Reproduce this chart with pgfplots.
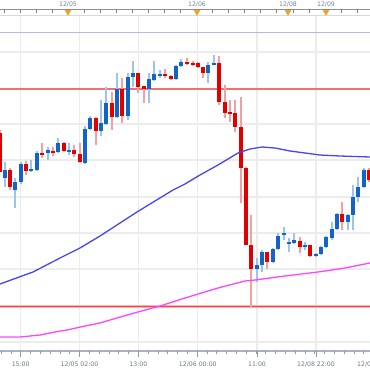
\documentclass[border=0pt]{standalone}
\usepackage{pgfplots}
\pgfplotsset{compat=1.18}
\usepackage{pgfplotstable}
\usepackage{fontspec}
\setmainfont{DejaVu Sans}
\definecolor{cblue}{HTML}{1464C8}
\definecolor{cred}{HTML}{E00000}
\definecolor{wblue}{HTML}{9CC4EE}
\definecolor{wred}{HTML}{F2A0A0}
\definecolor{maBlue}{HTML}{4646F5}
\definecolor{maMag}{HTML}{FF44FF}
\definecolor{gridc}{HTML}{ECECEC}
\definecolor{lblc}{HTML}{6E7888}
\definecolor{toplbl}{HTML}{7080A0}
\definecolor{axc}{HTML}{A8B2C4}
\definecolor{lav}{HTML}{B4B8E6}
\definecolor{org}{HTML}{F5A020}
\definecolor{lvl}{HTML}{F27070}

% pixel coordinates: x = left->right, y = top->bottom
\pgfplotstableread{
x bt bb wt wb
5 170 178 162 187
15 182 190 178 208
21 164 182 162 184
31 169 171 160 172
37 153 170 151 171
48 150 153 147 160
58 143 152 138 153
69 150 151 143 155
85 129 163 126 164
90 118 129 116 130
101 123 131 100 136
106 103 124 87 125
117 89 117 73 118
128 77 116 73 120
133 73 77 61 87
149 79 89 73 103
154 74 80 61 81
160 74 75 70 78
176 66 79 65 80
181 62 66 59 67
208 65 73 62 83
214 63 64 55 65
257 265 269 258 282
262 252 265 250 272
273 249 262 248 263
278 236 249 233 250
284 233 235 227 240
289 242 243 238 252
294 240 243 233 244
305 245 247 242 250
316 254 256 253 257
321 247 254 246 255
326 237 247 236 248
332 229 238 222 240
337 214 229 213 230
348 215 222 214 230
353 197 215 185 230
358 187 197 177 202
364 170 187 168 188
}\upcandles

\pgfplotstableread{
x bt bb wt wb
0 133 172 130 172
10 170 187 168 190
26 164 171 161 175
42 153 155 143 158
53 151 153 147 156
64 143 151 142 152
74 150 154 145 157
80 154 162 143 163
96 118 131 117 145
112 103 117 92 130
122 89 116 78 123
138 73 87 73 93
144 86 89 86 103
165 74 76 69 78
171 76 79 75 80
187 62 64 58 65
193 63 64 61 66
198 63 67 62 68
203 67 73 67 78
219 63 102 56 105
225 102 113 85 118
230 112 114 100 122
235 113 127 100 132
241 127 168 97 203
246 168 245 167 245
251 245 269 215 307
267 252 262 252 269
300 241 247 237 253
310 245 256 245 257
342 214 222 202 230
369 170 180 168 182
}\downcandles

\begin{document}
\begin{tikzpicture}
\useasboundingbox (0,0) rectangle (185pt,185pt);
\begin{axis}[
  at={(0,0)}, anchor=south west,
  width=185pt, height=185pt, scale only axis,
  xmin=0, xmax=370, ymin=0, ymax=370, y dir=reverse,
  axis lines=none, clip=true,
]
% grid
\foreach \yy in {52,124,160,197,233,269,342}{
  \edef\tmp{\noexpand\draw[gridc, line width=0.6pt] (axis cs:0,\yy) -- (axis cs:370,\yy);}\tmp
}
\foreach \xx in {20.7,79.5,138.3,197.8,257,316}{
  \edef\tmp{\noexpand\draw[gridc, line width=0.6pt] (axis cs:\xx,16) -- (axis cs:\xx,351);}\tmp
}
% top strip
\draw[axc!80!black, line width=0.5pt] (axis cs:0,9.5) -- (axis cs:370,9.5);
\foreach \k in {0,...,22}{
  \pgfmathsetmacro\xx{4+16.05*\k}
  \edef\tmp{\noexpand\draw[gray, line width=0.4pt] (axis cs:\xx,9.5) -- (axis cs:\xx,12.5);}\tmp
}
\draw[gray!30, line width=0.9pt] (axis cs:0,15.5) -- (axis cs:370,15.5);
\draw[lav, line width=0.6pt] (axis cs:0,32.5) -- (axis cs:370,32.5);
\addplot[only marks, mark=triangle*, mark size=1.5pt, color=org, mark options={rotate=180}] coordinates {(68,12) (197,12) (288,12) (326,12)};
\node[toplbl, font=\fontsize{3.1}{4}\selectfont] at (axis cs:68,4.5) {12/05};
\node[toplbl, font=\fontsize{3.1}{4}\selectfont] at (axis cs:197,4.5) {12/06};
\node[toplbl, font=\fontsize{3.1}{4}\selectfont] at (axis cs:288,4.5) {12/08};
\node[toplbl, font=\fontsize{3.1}{4}\selectfont] at (axis cs:326,4.5) {12/09};
% bottom axis
\draw[axc, line width=0.6pt] (axis cs:0,351) -- (axis cs:370,351);
\foreach \xx in {20.7,79.5,138.3,197.8,257,316}{
  \edef\tmp{\noexpand\draw[gray!80, line width=0.4pt] (axis cs:\xx,351) -- (axis cs:\xx,357);}\tmp
}
\foreach \k in {0,...,37}{
  \pgfmathsetmacro\xx{1.1+9.8*\k}
  \edef\tmp{\noexpand\draw[gray!80, line width=0.4pt] (axis cs:\xx,351) -- (axis cs:\xx,354);}\tmp
}
\node[lblc, font=\fontsize{3.1}{4}\selectfont] at (axis cs:20.7,364) {15:00};
\node[lblc, font=\fontsize{3.1}{4}\selectfont] at (axis cs:79.5,364) {12/05 02:00};
\node[lblc, font=\fontsize{3.1}{4}\selectfont] at (axis cs:138.3,364) {13:00};
\node[lblc, font=\fontsize{3.1}{4}\selectfont] at (axis cs:197.8,364) {12/06 00:00};
\node[lblc, font=\fontsize{3.1}{4}\selectfont] at (axis cs:257,364) {11:00};
\node[lblc, font=\fontsize{3.1}{4}\selectfont] at (axis cs:316,364) {12/08 22:00};
\node[lblc, font=\fontsize{3.1}{4}\selectfont] at (axis cs:376,364) {12/09 09:00};
% horizontal levels
\addplot[color=lvl, line width=0.6pt] coordinates {(0,89) (370,89)};
\addplot[color=red!30, line width=1.8pt] coordinates {(0,306.5) (370,306.5)};
\addplot[color=red!75, line width=0.8pt] coordinates {(0,306.5) (370,306.5)};
% wicks
\addplot[draw=none, mark=none, error bars/.cd, y dir=both, y explicit, error mark=none,
  error bar style={draw=wblue, line width=0.6pt}]
  table[x=x, y expr={(\thisrow{wt}+\thisrow{wb})/2}, y error expr={(\thisrow{wb}-\thisrow{wt})/2}] {\upcandles};
\addplot[draw=none, mark=none, error bars/.cd, y dir=both, y explicit, error mark=none,
  error bar style={draw=wred, line width=0.6pt}]
  table[x=x, y expr={(\thisrow{wt}+\thisrow{wb})/2}, y error expr={(\thisrow{wb}-\thisrow{wt})/2}] {\downcandles};
% bodies
\addplot[draw=none, mark=none, error bars/.cd, y dir=both, y explicit, error mark=none,
  error bar style={draw=cblue, line width=2pt}]
  table[x=x, y expr={(\thisrow{bt}+\thisrow{bb})/2}, y error expr={(\thisrow{bb}-\thisrow{bt})/2}] {\upcandles};
\addplot[draw=none, mark=none, error bars/.cd, y dir=both, y explicit, error mark=none,
  error bar style={draw=cred, line width=2pt}]
  table[x=x, y expr={(\thisrow{bt}+\thisrow{bb})/2}, y error expr={(\thisrow{bb}-\thisrow{bt})/2}] {\downcandles};
% moving averages
\addplot[color=maBlue, line width=0.65pt] coordinates {
(0,284) (33,272) (60,258) (80,248) (100,236) (120,223) (137,212) (155,201) (173,190) (185,184) (200,175) (218,165) (238,153) (250,149) (262,147) (275,148) (290,151) (305,153) (320,155) (340,156) (370,157)};
\addplot[color=maMag, line width=0.65pt] coordinates {
(0,337) (20,337) (40,335) (55,332) (67,330) (85,326) (100,323) (127,315) (160,306) (185,298) (218,288) (245,281) (255,280) (285,276) (318,272) (345,268) (370,263)};
\end{axis}
\end{tikzpicture}
\end{document}
